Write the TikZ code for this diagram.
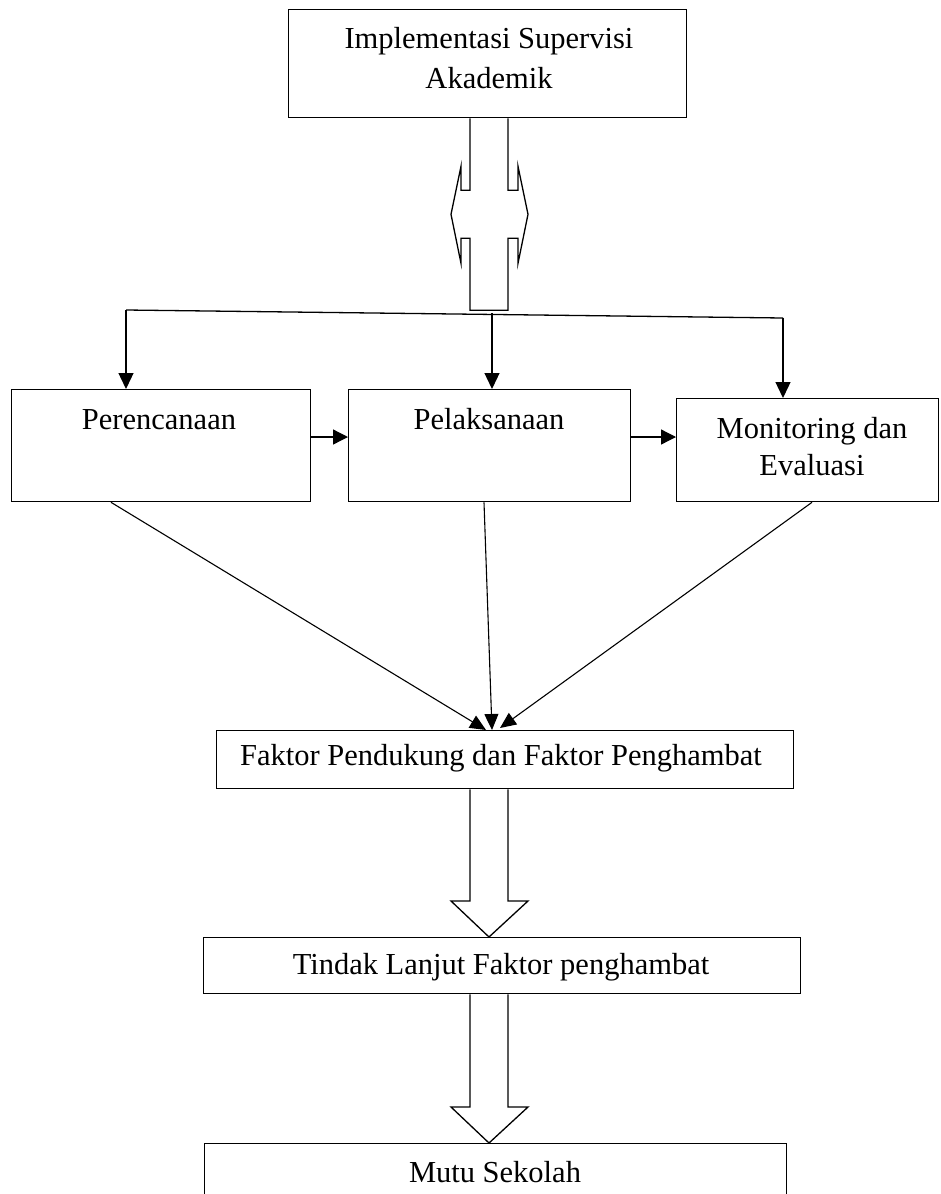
\documentclass[tikz,border=0pt]{standalone}
\usepackage{fontspec}
\setmainfont{Liberation Serif}
\usetikzlibrary{arrows.meta,positioning,calc}

\begin{document}
\begin{tikzpicture}[x=1pt, y=-1pt, line width=1.3pt, >={Triangle[length=16pt,width=15pt]}]
\tikzset{
  box/.style={draw, line width=1.3pt, inner sep=0pt, anchor=north west},
  lbl/.style={font=\fontsize{30.5}{40}\selectfont, align=center, inner sep=0pt},
  diag/.style={->, line width=1.1pt, >={Triangle[length=16pt,width=14pt]}},
  side/.style={->, >={Triangle[length=15pt,width=15pt]}},
  hollow/.style={draw, line width=1.3pt, line join=miter}
}
\clip (0,0) rectangle (940,1194);
\fill[white] (0,0) rectangle (940,1194);

% boxes
\node[box, minimum width=398pt, minimum height=108pt] (impl) at (288,9) {};
\node[box, minimum width=299pt, minimum height=112pt] (ren)  at (11,389) {};
\node[box, minimum width=282pt, minimum height=112pt] (pel)  at (348,389) {};
\node[box, minimum width=262pt, minimum height=103pt] (mon)  at (676,398) {};
\node[box, minimum width=577pt, minimum height=58pt]  (fak)  at (216,730) {};
\node[box, minimum width=597pt, minimum height=56pt]  (tin)  at (203,937) {};
\node[box, minimum width=582pt, minimum height=90pt]  (mutu) at (204,1143) {};

% texts
\node[lbl] (implT) at (489,58)   {Implementasi Supervisi\\Akademik};
\node[lbl] (renT)  at (159,420)  {Perencanaan};
\node[lbl] (pelT)  at (489,419)  {Pelaksanaan};
\node[lbl, font=\fontsize{30.5}{37}\selectfont] (monT) at (812,447) {Monitoring dan\\Evaluasi};
\node[lbl] (fakT)  at (501,758)  {Faktor Pendukung dan Faktor Penghambat};
\node[lbl] (tinT)  at (501,967)  {Tindak Lanjut Faktor penghambat};
\node[lbl] (mutuT) at (495,1172) {Mutu Sekolah};

\coordinate (axis) at (489,0);
\coordinate (splitL) at (126,310);
\coordinate (splitR) at (783,318);
\coordinate (splitM) at (492,313);

% double arrow under the top box
\draw[hollow] ($(axis |- impl.south)+(-19,0)$) -- ++(0,72) -- ++(-9,0) -- ++(0,-24)
  -- ++(-10,48) -- ++(10,49) -- ++(0,-25) -- ++(9,0) -- ++(0,72) -- ++(38,0)
  -- ++(0,-72) -- ++(10,0) -- ++(0,25) -- ++(10,-49) -- ++(-10,-48) -- ++(0,24)
  -- ++(-10,0) -- ++(0,-72);

% branching
\draw (splitL) -- (splitR);
\draw[->] (splitL) -- (splitL |- ren.north);
\draw[->] (splitM) -- (splitM |- pel.north);
\draw[->] (splitR) -- (splitR |- mon.north);

\draw[side] ([yshift=-48pt]ren.north east) -- ([yshift=-48pt]pel.north west);
\draw[side] ([yshift=-48pt]pel.north east) -- ([yshift=-39pt]mon.north west);

% towards the factors
\draw[diag] ([xshift=100pt]ren.south west) -- ([xshift=270pt]fak.north west);
\draw[diag] ([xshift=136pt]pel.south west) -- ([xshift=276pt]fak.north west);
\draw[diag] ([xshift=136pt]mon.south west) -- ([xshift=284pt,yshift=2pt]fak.north west);

% hollow arrows
\foreach \a/\b in {fak/tin, tin/mutu}
  \draw[hollow] ($(axis |- \a.south)+(-19,0)$) -- ($(axis |- \b.north)+(-19,-36)$)
    -- ++(-19,0) -- (axis |- \b.north) -- ++(39,-36) -- ++(-20,0)
    -- ($(axis |- \a.south)+(19,0)$);

\end{tikzpicture}
\end{document}
